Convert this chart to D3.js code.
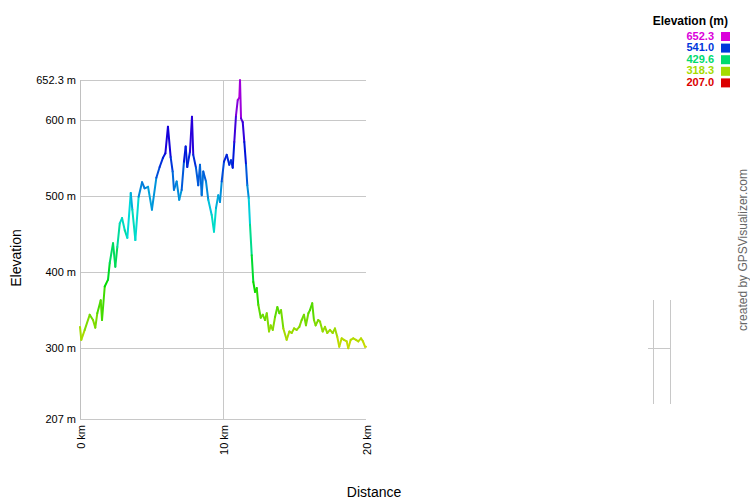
<!DOCTYPE html>
<html>
<head>
<meta charset="utf-8">
<script src="https://cdn.jsdelivr.net/npm/d3@7"></script>
<style>
  html, body { margin: 0; padding: 0; background: #fff; }
  svg { display: block; font-family: "Liberation Sans", Arial, sans-serif; }
</style>
</head>
<body>
<svg id="chart" width="750" height="500"></svg>
<script>
// ---- data ----
const distKm = [0.00,0.09,0.33,0.68,0.91,1.07,1.21,1.45,1.54,1.73,1.96,2.08,2.31,2.47,2.61,2.78,2.94,3.13,3.31,3.55,3.66,3.87,4.10,4.34,4.52,4.76,5.03,5.34,5.57,5.80,5.97,6.15,6.34,6.48,6.57,6.76,6.94,7.11,7.27,7.39,7.50,7.69,7.83,7.92,8.11,8.27,8.39,8.51,8.62,8.81,8.97,9.21,9.37,9.51,9.67,9.79,9.91,10.07,10.26,10.44,10.56,10.68,10.79,10.91,11.03,11.14,11.19,11.26,11.38,11.49,11.61,11.70,11.80,11.89,12.01,12.12,12.24,12.36,12.47,12.64,12.78,12.94,13.06,13.22,13.34,13.48,13.64,13.80,13.94,14.06,14.22,14.45,14.64,14.80,14.97,15.15,15.34,15.50,15.66,15.80,15.97,16.08,16.24,16.36,16.48,16.66,16.78,16.97,17.13,17.29,17.48,17.67,17.83,17.99,18.13,18.30,18.46,18.65,18.76,18.93,19.11,19.30,19.46,19.65,19.79,19.93,20.00];
const elevM = [328,311,324,344,337,327,346,363,337,381,390,412,438,407,433,464,471,455,445,504,482,442,499,518,510,512,482,524,538,550,556,591,551,532,508,519,495,508,545,565,538,558,604,554,537,514,541,501,532,519,495,475,453,484,501,492,519,545,554,541,547,537,571,606,626,629,652,602,597,571,541,514,497,462,422,387,374,379,357,340,344,337,346,322,330,324,341,354,346,350,326,311,322,320,326,324,328,337,344,330,346,350,359,337,330,337,335,322,328,320,324,320,326,315,302,313,311,309,300,311,313,311,309,313,309,302,302];
const yTickValues = [207, 300, 400, 500, 600, 652.3];
const xTickValues = [0, 10, 20];
const legendValues = [652.3, 541.0, 429.6, 318.3, 207.0];
const elevMin = 207, elevMax = 652.3, distMax = 20;

// ---- layout ----
const svg = d3.select("#chart");
const L = 80, R = 366, T = 80, B = 419;
const x = d3.scaleLinear().domain([0, distMax]).range([L, R]);
const y = d3.scaleLinear().domain([elevMin, elevMax]).range([B, T]);
const hue = d3.scaleLinear().domain([elevMin, elevMax]).range([0, 300]);
const colorFor = v => d3.hsl(hue(v), 1, 0.43).formatHex();

// gridlines
const grid = svg.append("g");
grid.selectAll("line.h").data(yTickValues).enter().append("line")
  .attr("x1", L).attr("x2", R)
  .attr("y1", d => Math.round(y(d)) + 0.5).attr("y2", d => Math.round(y(d)) + 0.5)
  .attr("stroke", "#c8c8c8").attr("stroke-width", 1);
grid.selectAll("line.v").data(xTickValues.filter(d => d > 0 && d < distMax)).enter().append("line")
  .attr("x1", d => Math.round(x(d)) + 0.5).attr("x2", d => Math.round(x(d)) + 0.5)
  .attr("y1", T).attr("y2", B)
  .attr("stroke", "#c8c8c8").attr("stroke-width", 1);
// left axis line
svg.append("line").attr("x1", L + 0.5).attr("x2", L + 0.5).attr("y1", T).attr("y2", B)
  .attr("stroke", "#c0c0c0");

// y axis labels
const yAxis = d3.axisLeft(y).tickValues(yTickValues).tickSize(0).tickPadding(4)
  .tickFormat(d => (Number.isInteger(d) ? d : d.toFixed(1)) + " m");
const gy = svg.append("g").attr("transform", `translate(${L},0)`).call(yAxis);
gy.select(".domain").remove();
gy.selectAll("text").attr("font-size", 11).attr("fill", "#000")
  .attr("font-family", "Liberation Sans, Arial, sans-serif");

// x axis labels (rotated)
const xAxis = d3.axisBottom(x).tickValues(xTickValues).tickSize(0).tickFormat(d => d + " km");
const gx = svg.append("g").attr("transform", `translate(0,${B})`).call(xAxis);
gx.select(".domain").remove();
gx.selectAll("text")
  .attr("font-size", 11).attr("fill", "#000")
  .attr("font-family", "Liberation Sans, Arial, sans-serif")
  .attr("text-anchor", "end")
  .attr("transform", "rotate(-90)")
  .attr("x", -6).attr("y", 1).attr("dy", "0.35em");

// elevation line, segments coloured by elevation
const pts = distKm.map((d, i) => [d, elevM[i]]);
const segs = d3.pairs(pts);
svg.append("g").selectAll("line").data(segs).enter().append("line")
  .attr("x1", d => x(d[0][0])).attr("y1", d => y(d[0][1]))
  .attr("x2", d => x(d[1][0])).attr("y2", d => y(d[1][1]))
  .attr("stroke", d => colorFor((d[0][1] + d[1][1]) / 2))
  .attr("stroke-width", 2).attr("stroke-linecap", "round");

// axis titles
svg.append("text").attr("x", 374).attr("y", 497).attr("text-anchor", "middle")
  .attr("font-size", 14).text("Distance");
svg.append("text").attr("transform", "translate(21,258) rotate(-90)")
  .attr("text-anchor", "middle").attr("font-size", 14).text("Elevation");

// legend
const lg = svg.append("g");
lg.append("text").attr("x", 728).attr("y", 25).attr("text-anchor", "end")
  .attr("font-size", 12).attr("font-weight", "bold").text("Elevation (m)");
const rows = lg.selectAll("g.row").data(legendValues).enter().append("g")
  .attr("transform", (d, i) => `translate(0,${36 + i * 11.6})`);
rows.append("text").attr("x", 714).attr("y", 3.5).attr("text-anchor", "end")
  .attr("font-size", 11).attr("font-weight", "bold")
  .attr("fill", d => colorFor(d)).text(d => d.toFixed(1));
rows.append("rect").attr("x", 721).attr("y", -4).attr("width", 9).attr("height", 9)
  .attr("fill", d => colorFor(d));

// credit
svg.append("text").attr("transform", "translate(747,250) rotate(-90)")
  .attr("text-anchor", "middle").attr("font-size", 12).attr("fill", "#666")
  .text("created by GPSVisualizer.com");

// stray small frame at right
const sg = svg.append("g").attr("stroke", "#c8c8c8").attr("stroke-width", 1);
sg.append("line").attr("x1", 653.5).attr("x2", 653.5).attr("y1", 300).attr("y2", 404);
sg.append("line").attr("x1", 670.5).attr("x2", 670.5).attr("y1", 300).attr("y2", 404);
sg.append("line").attr("x1", 648).attr("x2", 671).attr("y1", 348.5).attr("y2", 348.5);
</script>
</body>
</html>
